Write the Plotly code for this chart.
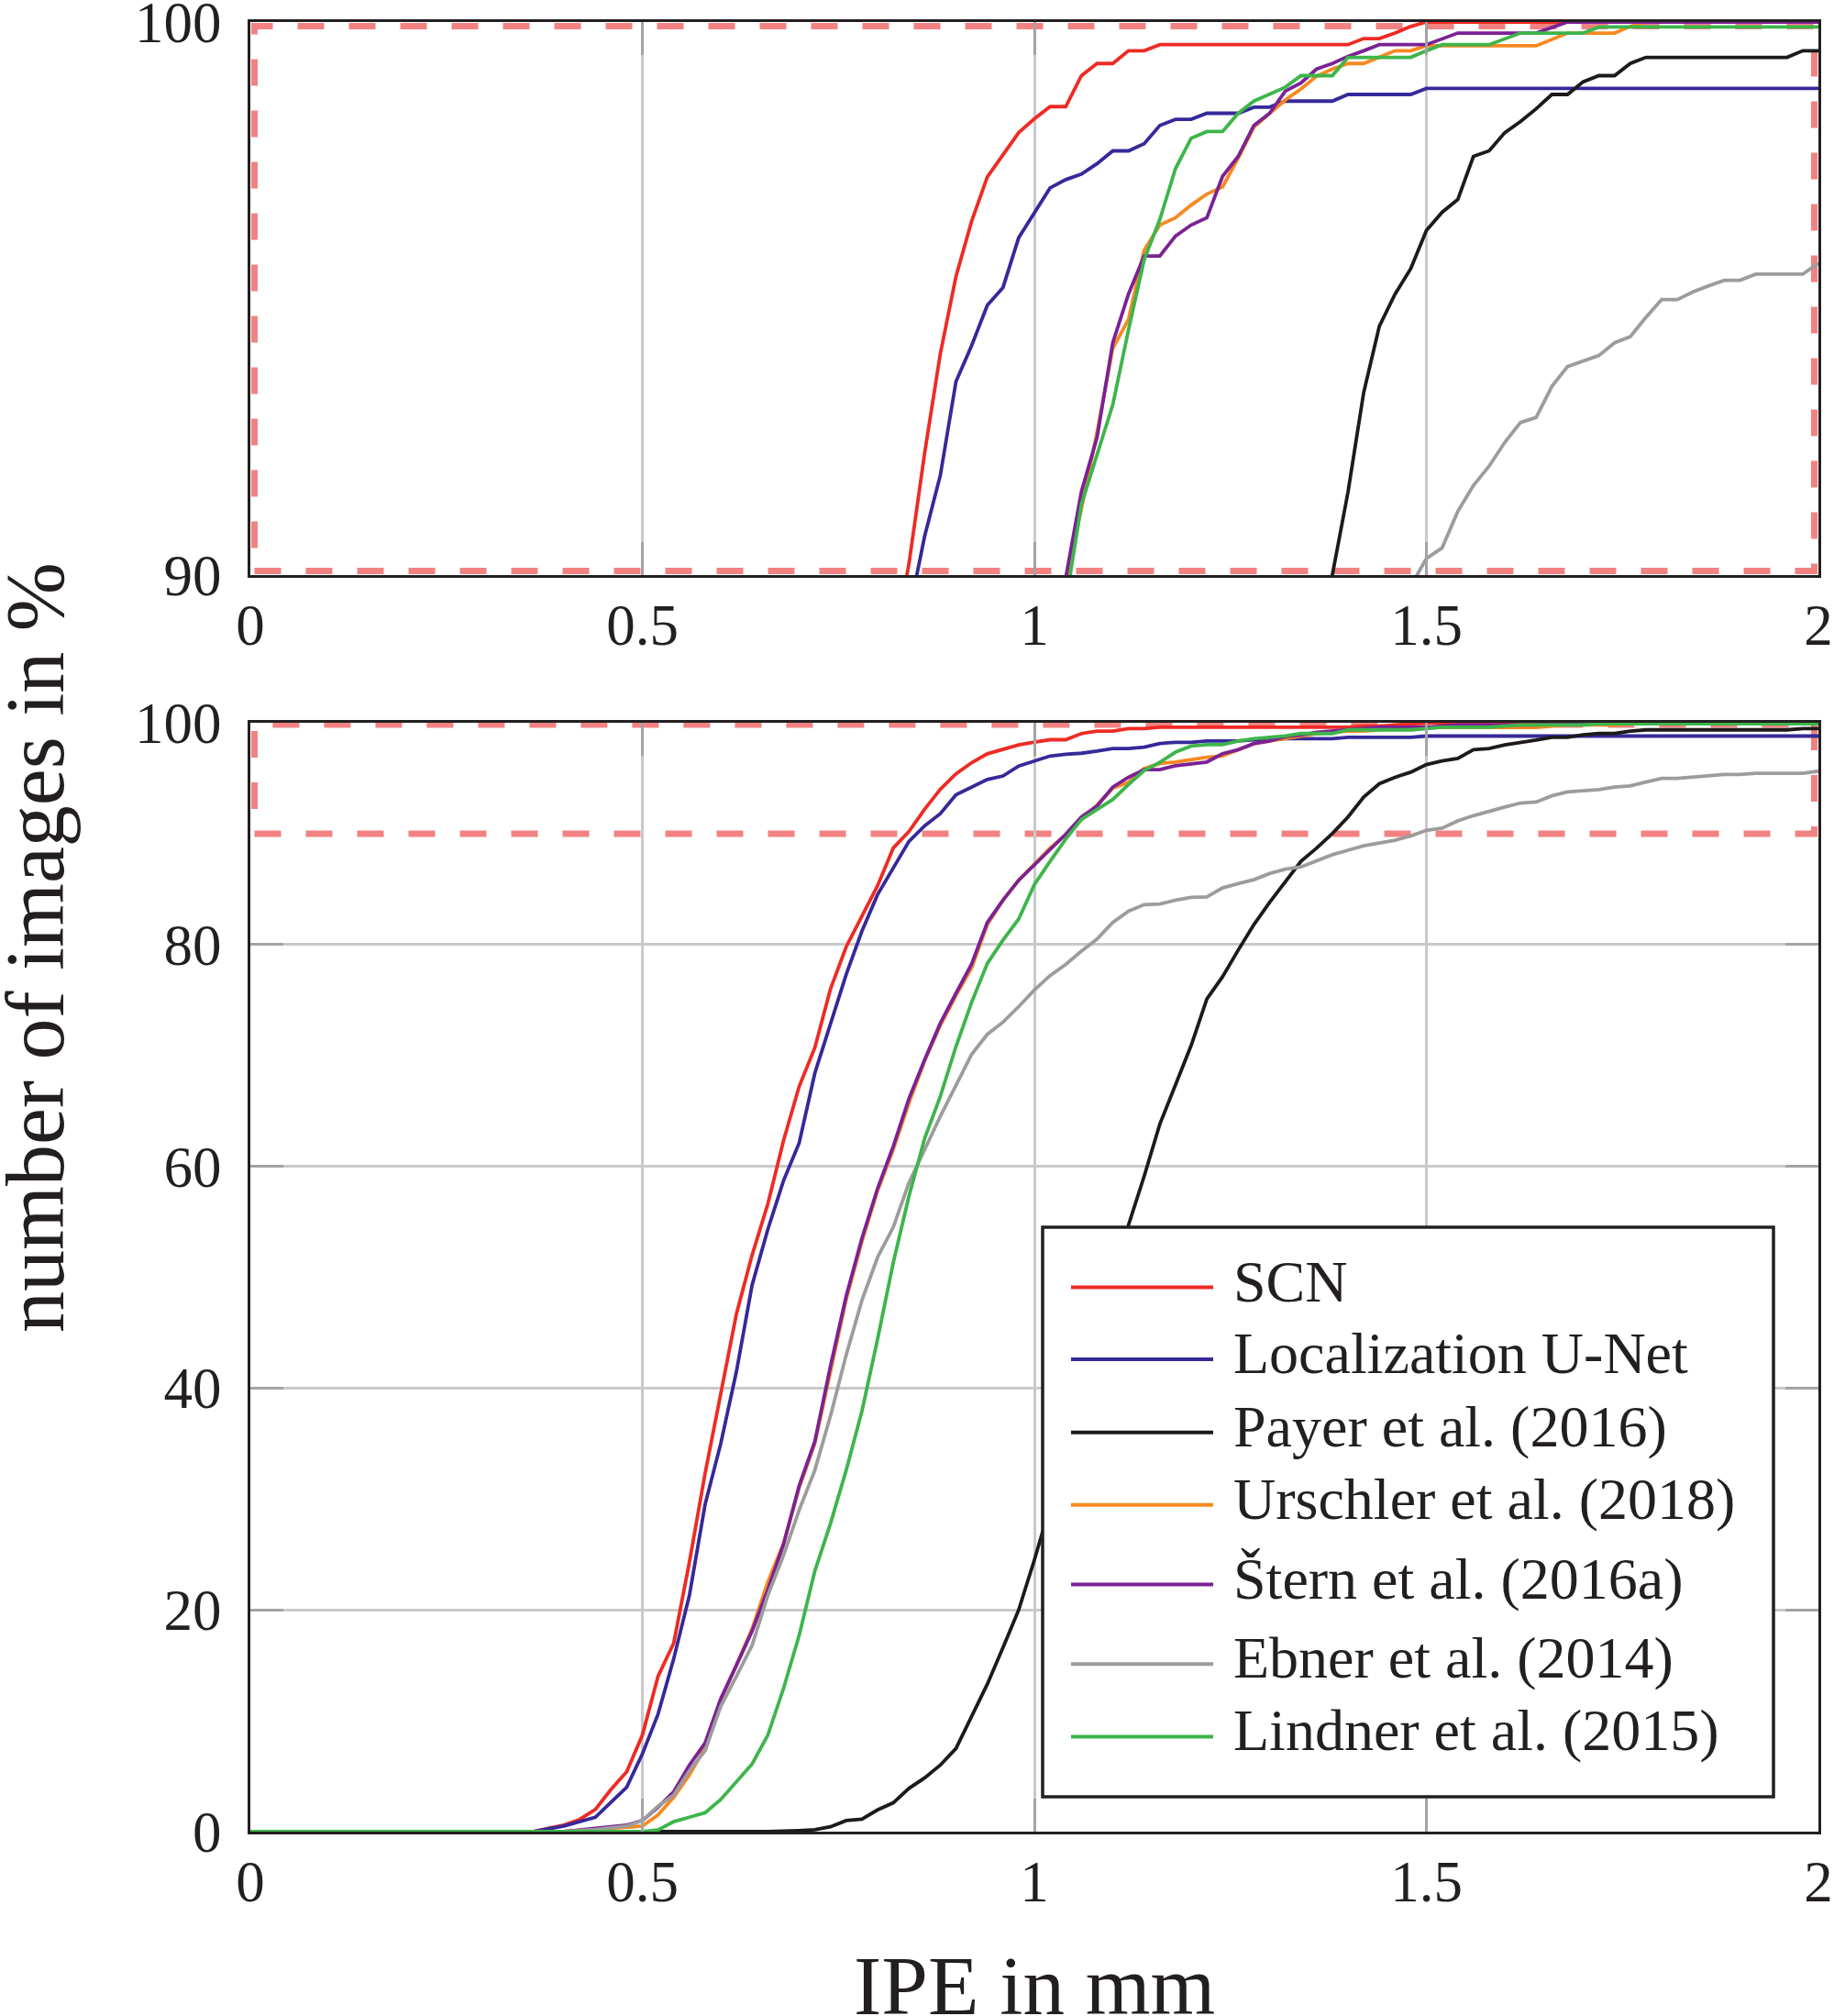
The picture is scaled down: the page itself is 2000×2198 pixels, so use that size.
import plotly.graph_objects as go

# ---------------- data ----------------
x_range = [0, 2]
x_tick_values = [0, 0.5, 1, 1.5, 2]
x_tick_labels = ["0", "0.5", "1", "1.5", "2"]
top_y_range = [90, 100]
top_y_tick_values = [90, 100]
top_y_tick_labels = ["90", "100"]
bottom_y_range = [0, 100]
bottom_y_tick_values = [0, 20, 40, 60, 80, 100]
bottom_y_tick_labels = ["0", "20", "40", "60", "80", "100"]
highlight_x = [0, 2]
highlight_y = [90, 100]

x_title = "IPE in mm"
y_title = "number of images in %"

series_names = [
    "SCN",
    "Localization U-Net",
    "Payer et al. (2016)",
    "Urschler et al. (2018)",
    "Štern et al. (2016a)",
    "Ebner et al. (2014)",
    "Lindner et al. (2015)",
]

scn_x = [0, 0.36, 0.38, 0.40, 0.42, 0.44, 0.46, 0.48, 0.50, 0.52, 0.54, 0.56, 0.58, 0.60,
         0.62, 0.64, 0.66, 0.68, 0.70, 0.72, 0.74, 0.76, 0.78, 0.80, 0.82, 0.84, 0.86, 0.88,
         0.90, 0.92, 0.94, 0.96, 0.98, 1.00, 1.02, 1.04, 1.06, 1.08, 1.10, 1.12, 1.14, 1.16,
         1.40, 1.42, 1.44, 1.46, 1.48, 1.50, 2.00]
scn_y = [0, 0, 0.3, 0.6, 1.1, 2.0, 3.8, 5.4, 8.7, 14.0, 17.0, 24.3, 32.3, 39.5,
         46.7, 52.0, 56.6, 62.3, 67.2, 70.7, 76.0, 79.8, 82.6, 85.3, 88.7, 90.2, 92.2, 94.0,
         95.4, 96.4, 97.2, 97.6, 98.0, 98.25, 98.47, 98.47, 99.03, 99.25, 99.25, 99.48, 99.48, 99.59,
         99.59, 99.70, 99.70, 99.80, 99.92, 100, 100]

unet_x = [0, 0.36, 0.40, 0.44, 0.48, 0.50, 0.52, 0.54, 0.56, 0.58, 0.60, 0.62, 0.64, 0.66,
          0.68, 0.70, 0.72, 0.74, 0.76, 0.78, 0.80, 0.82, 0.84, 0.86, 0.88, 0.90, 0.92, 0.94,
          0.96, 0.98, 1.00, 1.02, 1.04, 1.06, 1.08, 1.10, 1.12, 1.14, 1.16, 1.18, 1.20, 1.22,
          1.26, 1.28, 1.30, 1.32, 1.38, 1.40, 1.48, 1.50, 2.00]
unet_y = [0, 0, 0.5, 1.3, 4.0, 7.0, 10.6, 15.6, 21.3, 29.5, 35.0, 41.5, 49.3, 54.3,
          58.7, 62.1, 68.4, 72.9, 77.3, 81.2, 84.5, 86.9, 89.3, 90.7, 91.8, 93.5, 94.15, 94.88,
          95.2, 96.1, 96.55, 97.0, 97.15, 97.25, 97.44, 97.67, 97.67, 97.8, 98.13, 98.24, 98.24, 98.35,
          98.35, 98.46, 98.46, 98.57, 98.57, 98.69, 98.69, 98.8, 98.8]

payer_x = [0, 0.66, 0.70, 0.72, 0.74, 0.76, 0.78, 0.80, 0.82, 0.84, 0.86, 0.88, 0.90, 0.92,
           0.94, 0.96, 0.98, 1.00, 1.012, 1.12, 1.14, 1.16, 1.18, 1.20, 1.22, 1.24, 1.26, 1.28,
           1.30, 1.32, 1.34, 1.36, 1.38, 1.40, 1.42, 1.44, 1.46, 1.48, 1.50, 1.52, 1.54, 1.56,
           1.58, 1.60, 1.62, 1.64, 1.66, 1.68, 1.70, 1.72, 1.74, 1.76, 1.78, 1.96, 1.98, 2.00]
payer_y = [0, 0, 0.1, 0.17, 0.44, 1.0, 1.13, 1.96, 2.6, 3.9, 4.85, 6.0, 7.5, 10.4,
           13.3, 16.6, 20.0, 24.5, 27.4, 54.7, 59.1, 63.8, 67.4, 70.9, 75.1, 77.1, 79.5, 81.8,
           83.8, 85.7, 87.5, 88.7, 90.0, 91.5, 93.3, 94.5, 95.08, 95.54, 96.23, 96.56, 96.79, 97.57,
           97.67, 98.0, 98.2, 98.43, 98.69, 98.69, 98.92, 99.03, 99.03, 99.25, 99.36, 99.36, 99.48, 99.48]

urschler_x = [0, 0.40, 0.44, 0.48, 0.50,
              0.52, 0.54, 0.56, 0.58, 0.60, 0.62, 0.64, 0.66, 0.68, 0.70,
              0.72, 0.74, 0.76, 0.78, 0.80, 0.82, 0.84, 0.86, 0.88, 0.90,
              0.92, 0.94, 0.96, 0.98, 1.00, 1.02, 1.04, 1.06, 1.08, 1.10,
              1.12, 1.14, 1.16, 1.18, 1.20, 1.22, 1.24, 1.26, 1.28, 1.30,
              1.32, 1.34, 1.36, 1.38, 1.40, 1.42, 1.44, 1.46, 1.48, 1.50,
              1.64, 1.68, 1.74, 1.76, 1.78, 2.00]
urschler_y = [0, 0, 0.2, 0.4, 0.5,
              1.5, 3.1, 5.1, 7.6, 11.8, 15.0, 18.3, 22.5, 26.0, 31.0,
              35.0, 41.5, 48.0, 53.2, 57.8, 61.5, 65.7, 69.5, 72.7, 75.4,
              77.9, 81.8, 84.0, 85.8, 87.2, 88.7, 89.9, 91.2, 92.59, 94.1,
              94.62, 95.87, 96.33, 96.46, 96.69, 96.89, 97.02, 97.54, 98.10, 98.35,
              98.59, 98.79, 99.02, 99.15, 99.25, 99.25, 99.36, 99.48, 99.48, 99.57,
              99.57, 99.80, 99.80, 99.92, 100, 100]

stern_x = [0, 0.40, 0.44, 0.48, 0.50,
           0.52, 0.54, 0.56, 0.58, 0.60, 0.62, 0.64, 0.66, 0.68, 0.70,
           0.72, 0.74, 0.76, 0.78, 0.80, 0.82, 0.84, 0.86, 0.88, 0.90,
           0.92, 0.94, 0.96, 0.98, 1.00, 1.02, 1.04, 1.06, 1.08, 1.10,
           1.12, 1.14, 1.16, 1.18, 1.20, 1.22, 1.24, 1.26, 1.28, 1.30,
           1.32, 1.34, 1.36, 1.38, 1.40, 1.42, 1.44,
           1.50, 1.52, 1.54, 1.64, 1.68, 2.00]
stern_y = [0, 0, 0.3, 0.58, 1.0,
           2.2, 3.6, 6.0, 8.0, 12.0, 15.0, 18.1, 21.8, 25.9, 31.2,
           35.2, 42.0, 48.3, 53.5, 58.0, 61.8, 66.1, 69.6, 72.9, 75.6,
           78.25, 82.0, 84.0, 85.8, 87.2, 88.6, 89.95, 91.51, 92.49, 94.20,
           95.08, 95.77, 95.77, 96.13, 96.33, 96.46, 97.21, 97.57, 98.13, 98.35,
           98.75, 98.90, 99.15, 99.25, 99.38, 99.48, 99.59,
           99.59, 99.69, 99.80, 99.80, 100, 100]

ebner_x = [0, 0.40, 0.44, 0.48, 0.50,
           0.52, 0.54, 0.56, 0.58, 0.60, 0.62, 0.64, 0.66, 0.68, 0.70,
           0.72, 0.74, 0.76, 0.78, 0.80, 0.82, 0.84, 0.86, 0.88, 0.90,
           0.92, 0.94, 0.96, 0.98, 1.00, 1.02, 1.04, 1.06, 1.08, 1.10,
           1.12, 1.14, 1.16, 1.18, 1.20, 1.22, 1.24, 1.26, 1.28, 1.30,
           1.32, 1.34, 1.36, 1.38, 1.40, 1.42, 1.44, 1.46, 1.48, 1.50,
           1.52, 1.54, 1.56, 1.58, 1.60, 1.62, 1.64, 1.66, 1.68, 1.70,
           1.72, 1.74, 1.76, 1.78, 1.80, 1.82, 1.84, 1.86, 1.88, 1.90, 1.92,
           1.98, 2.00]
ebner_y = [0, 0, 0.2, 0.5, 1.0,
           2.3, 3.3, 5.5, 7.3, 11.3, 14.0, 16.8, 21.3, 24.9, 29.0,
           32.6, 37.5, 43.0, 47.9, 51.8, 54.5, 58.5, 61.5, 64.5, 67.3,
           70.1, 71.9, 73.0, 74.4, 75.9, 77.2, 78.2, 79.4, 80.5, 82.0,
           83.0, 83.6, 83.65, 84.0, 84.25, 84.3, 85.1, 85.5, 85.85, 86.4,
           86.8, 87.0, 87.55, 88.1, 88.5, 88.9, 89.15, 89.4, 89.8, 90.3,
           90.49, 91.15, 91.62, 91.97, 92.4, 92.76, 92.85, 93.41, 93.77, 93.87,
           93.97, 94.2, 94.31, 94.66, 94.98, 94.98, 95.12, 95.23, 95.33, 95.33, 95.44,
           95.44, 95.64]

lindner_x = [0, 0.50,
             0.52, 0.54, 0.56, 0.58, 0.60, 0.62, 0.64, 0.66, 0.68, 0.70,
             0.72, 0.74, 0.76, 0.78, 0.80, 0.82, 0.84, 0.86, 0.88, 0.90,
             0.92, 0.94, 0.96, 0.98, 1.00, 1.02, 1.04, 1.06, 1.08, 1.10,
             1.12, 1.14, 1.16, 1.18, 1.20, 1.22, 1.24, 1.26, 1.28, 1.30,
             1.32, 1.34, 1.36, 1.38, 1.40,
             1.48, 1.50, 1.52, 1.58, 1.62, 1.70, 1.72, 2.00]
lindner_y = [0, 0,
             0.15, 0.9, 1.3, 1.7, 2.9, 4.5, 6.1, 8.7, 12.9, 17.7,
             23.5, 27.8, 32.6, 37.9, 44.4, 51.3, 57.3, 62.5, 66.3, 70.8,
             74.8, 78.3, 80.4, 82.3, 85.4, 87.5, 89.5, 91.28, 92.2, 93.08,
             94.43, 95.70, 96.43, 97.35, 97.90, 98.02, 98.02, 98.35, 98.57, 98.69,
             98.82, 99.03, 99.03, 99.03, 99.36,
             99.36, 99.48, 99.59, 99.59, 99.80, 99.80, 99.91, 99.91]

series_x = [scn_x, unet_x, payer_x, urschler_x, stern_x, ebner_x, lindner_x]
series_y = [scn_y, unet_y, payer_y, urschler_y, stern_y, ebner_y, lindner_y]
for sx, sy in zip(series_x, series_y):
    assert len(sx) == len(sy), (len(sx), len(sy))

# ---------------- style ----------------
series_colors = ["#ee2b24", "#35299a", "#1c1a1a", "#f7891f", "#7b2195", "#9c9c9c", "#3db54a"]

W, H = 2000, 2198
PLOT_L, PLOT_R = 273, 1983
TOP_T, TOP_B = 24, 627
BOT_T, BOT_B = 788, 1997

FONT = "Liberation Serif, Times New Roman, serif"
TEXT = "#231f20"


def px_x(p):
    return p / W


def px_y(p):
    return 1 - p / H


dom_x = [px_x(PLOT_L), px_x(PLOT_R)]
dom_top = [px_y(TOP_B), px_y(TOP_T)]
dom_bot = [px_y(BOT_B), px_y(BOT_T)]

fig = go.Figure()
for name, color, sx, sy in zip(series_names, series_colors, series_x, series_y):
    for xa, ya in (("x", "y"), ("x2", "y2")):
        fig.add_trace(go.Scatter(
            x=sx, y=sy, mode="lines", name=name,
            line=dict(color=color, width=3.8),
            xaxis=xa, yaxis=ya, showlegend=False, hoverinfo="skip",
        ))

common = dict(
    showline=True, linecolor=TEXT, linewidth=3, mirror="ticks",
    ticks="inside", ticklen=36, tickwidth=3, tickcolor="#a3a3a3",
    showgrid=True, gridcolor="#c9c9c9", gridwidth=3, zeroline=False,
    tickfont=dict(family=FONT, size=63, color=TEXT), fixedrange=True,
    automargin=False, ticklabeloverflow="allow",
)
X_STANDOFF = -3
Y_STANDOFF = 16

fig.update_layout(
    width=W, height=H, autosize=False,
    margin=dict(l=0, r=0, t=0, b=0, pad=0, autoexpand=False),
    paper_bgcolor="white", plot_bgcolor="white",
    showlegend=False,
    xaxis=dict(domain=dom_x, range=x_range, tickvals=x_tick_values, ticktext=x_tick_labels,
               anchor="y", ticklabelstandoff=X_STANDOFF, **common),
    yaxis=dict(domain=dom_top, range=top_y_range, tickvals=top_y_tick_values,
               ticktext=top_y_tick_labels, anchor="x", ticklabelstandoff=Y_STANDOFF, **common),
    xaxis2=dict(domain=dom_x, range=x_range, tickvals=x_tick_values, ticktext=x_tick_labels,
                anchor="y2", ticklabelstandoff=X_STANDOFF, **common),
    yaxis2=dict(domain=dom_bot, range=bottom_y_range, tickvals=bottom_y_tick_values,
                ticktext=bottom_y_tick_labels, anchor="x2", ticklabelstandoff=Y_STANDOFF, **common),
)

# dashed highlight rectangles (90-100 % region), drawn slightly inside the frame
DASH_COLOR = "#f28282"
inset_px = 4.5
ix = inset_px * (x_range[1] - x_range[0]) / (PLOT_R - PLOT_L)
iy_top = inset_px * (top_y_range[1] - top_y_range[0]) / (TOP_B - TOP_T)
iy_bot = 2.0 * (bottom_y_range[1] - bottom_y_range[0]) / (BOT_B - BOT_T)
dash_line = dict(color=DASH_COLOR, width=7, dash="29px,27px")
fig.add_shape(type="rect", xref="x", yref="y",
              x0=highlight_x[0] + ix, x1=highlight_x[1] - ix,
              y0=highlight_y[0] + iy_top, y1=highlight_y[1] - iy_top,
              line=dash_line, layer="below")
fig.add_shape(type="rect", xref="x2", yref="y2",
              x0=highlight_x[0] + ix, x1=highlight_x[1] - ix,
              y0=highlight_y[0], y1=highlight_y[1] - iy_bot,
              line=dash_line, layer="below")

# legend box
LEG_L, LEG_R, LEG_T, LEG_B = 1137, 1934, 1338, 1959
fig.add_shape(type="rect", xref="paper", yref="paper",
              x0=px_x(LEG_L), x1=px_x(LEG_R), y0=px_y(LEG_B), y1=px_y(LEG_T),
              line=dict(color=TEXT, width=3.5), fillcolor="white", layer="above")
legend_rows = [1403.6, 1482.1, 1561.7, 1640.8, 1727.6, 1814.3, 1893.4]
for name, color, ry in zip(series_names, series_colors, legend_rows):
    fig.add_shape(type="line", xref="paper", yref="paper",
                  x0=px_x(1168), x1=px_x(1323), y0=px_y(ry), y1=px_y(ry),
                  line=dict(color=color, width=4), layer="above")
    fig.add_annotation(x=px_x(1343), y=px_y(ry - 6.5), xref="paper", yref="paper",
                       text=name, showarrow=False, xanchor="left", yanchor="middle",
                       font=dict(family=FONT, size=64, color=TEXT))

# axis titles
fig.add_annotation(x=px_x((PLOT_L + PLOT_R) / 2), y=px_y(2165), xref="paper", yref="paper",
                   text=x_title, showarrow=False, xanchor="center", yanchor="middle",
                   font=dict(family=FONT, size=91, color=TEXT))
fig.add_annotation(x=px_x(38), y=px_y(1033), xref="paper", yref="paper",
                   text=y_title, showarrow=False, textangle=-90,
                   xanchor="center", yanchor="middle",
                   font=dict(family=FONT, size=90, color=TEXT))

fig.write_html("out.html")
